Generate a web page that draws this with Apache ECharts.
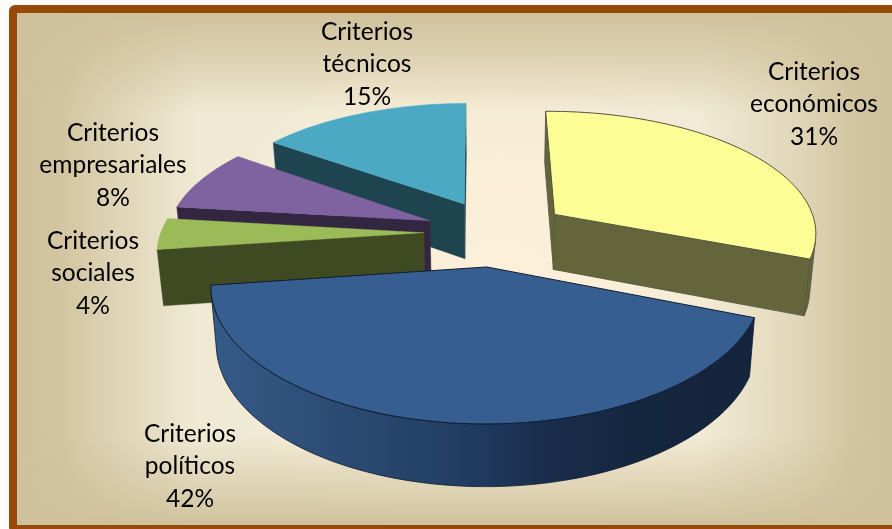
<!DOCTYPE html>
<html>
<head>
<meta charset="utf-8">
<style>html,body{margin:0;padding:0;background:#fff}#c{width:892px;height:529px}</style>
<script src="https://cdn.jsdelivr.net/npm/echarts@6/dist/echarts.min.js"></script>
</head>
<body>
<div id="c"></div>
<script>
// ---- data ----
const categories = ["Criterios\neconómicos", "Criterios\npolíticos", "Criterios\nsociales", "Criterios\nempresariales", "Criterios\ntécnicos"];
const values = [31, 42, 4, 8, 15];
// ---- styles ----
const topColors = ["#FDFD96", "#365E91", "#9BBB59", "#7F62A0", "#4BA9C4"];
const wallColors = ["#65653C", "#14253E", "#404A22", "#332640", "#1E4450"];
const outlineColors = ["#555540", "#0F1C30", null, null, null];
const drawOrder = [1, 5, 4, 3, 2];            // painter's order, back to front
const labelAnchors = [[814, 104.5], [190, 466.5], [93, 273.5], [113, 165.5], [367, 64.5]];
// ---- projection parameters ----
const VX = 495, HORIZON = -614, SCALE_X = 273, REF_Y = 267, K = 0.149, RADIUS_Y = 1.015;
const CENTER = [0.004, -0.272], EXPLODE = 0.274, HEIGHT = 57, ARC_STEP = 2;
const ROTATION = -0.5 * Math.PI / 180;
const total = values.reduce((a, b) => a + b, 0);

function project(X, Y) {
  const p = 1 / (1 - K * Y);
  return { x: VX + X * SCALE_X * Math.pow(p, 0.92), y: HORIZON + (REF_Y - HORIZON) * p, p: p };
}
function lower(pt) {
  return [VX + (pt.x - VX) * 0.981, pt.y + HEIGHT * Math.pow(pt.p, 0.58)];
}
function area(q) {
  let s = 0;
  for (let i = 0; i < q.length; i++) {
    const a = q[i], b = q[(i + 1) % q.length];
    s += a[0] * b[1] - b[0] * a[1];
  }
  return s;
}
function wallFill(i) {
  if (i !== 1) return wallColors[i];
  return new echarts.graphic.LinearGradient(209, 0, 756, 0, [
    { offset: 0, color: "#355B87" },
    { offset: 0.22, color: "#2C4C75" },
    { offset: 0.45, color: "#223E63" },
    { offset: 0.6, color: "#1A2F4E" },
    { offset: 0.78, color: "#15263F" },
    { offset: 1, color: "#14243C" }
  ], true);
}

function renderSlice(params, api) {
  const i = params.dataIndex;
  const val = api.value(0);
  let before = 0;
  for (let j = 0; j < i; j++) before += values[j];
  const a0 = before / total * Math.PI * 2 + ROTATION;
  const a1 = (before + val) / total * Math.PI * 2 + ROTATION;
  const mid = (a0 + a1) / 2 - ROTATION;
  const cx = CENTER[0] + Math.sin(mid) * EXPLODE;
  const cy = CENTER[1] - Math.cos(mid) * EXPLODE;
  const apex = project(cx, cy);
  const rim = [];
  const n = Math.max(2, Math.ceil((a1 - a0) * 180 / Math.PI / ARC_STEP));
  for (let s = 0; s <= n; s++) {
    const a = a0 + (a1 - a0) * s / n;
    rim.push(project(cx + Math.sin(a), cy - Math.cos(a) * RADIUS_Y));
  }
  const z = drawOrder[i] * 10;
  const outline = outlineColors[i];
  const fill = wallFill(i);
  const wallStroke = outline || wallColors[i];
  const children = [];
  const perimeter = [apex].concat(rim);
  // walls: only faces turned to the viewer
  let run = [];
  const flush = () => {
    if (run.length < 2) { run = []; return; }
    const top = run.map(p => [p.x, p.y]);
    const bot = run.map(lower).reverse();
    children.push({
      type: "polygon", z2: z,
      shape: { points: top.concat(bot) },
      style: { fill: fill, stroke: wallStroke, lineWidth: outline ? 0.8 : 0.4 }
    });
    run = [];
  };
  // arc wall, joined into contiguous visible runs
  for (let s = 0; s < rim.length - 1; s++) {
    const A = rim[s], B = rim[s + 1];
    const q = [[A.x, A.y], [B.x, B.y], lower(B), lower(A)];
    if (area(q) < 0) {
      if (!run.length) run.push(A);
      run.push(B);
    } else flush();
  }
  flush();
  // radial walls
  [[apex, rim[0]], [rim[rim.length - 1], apex]].forEach(e => {
    const A = e[0], B = e[1];
    const q = [[A.x, A.y], [B.x, B.y], lower(B), lower(A)];
    if (area(q) < 0) {
      children.push({
        type: "polygon", z2: z,
        shape: { points: q },
        style: { fill: fill, stroke: wallStroke, lineWidth: outline ? 0.8 : 0.4 }
      });
    }
  });
  // top face
  children.push({
    type: "polygon", z2: z + 1,
    shape: { points: perimeter.map(p => [p.x, p.y]) },
    style: { fill: topColors[i], stroke: outline || topColors[i], lineWidth: outline ? 1 : 0.4 }
  });
  // label
  children.push({
    type: "text", z2: 100,
    style: {
      x: labelAnchors[i][0], y: labelAnchors[i][1],
      text: categories[i] + "\n" + val + "%",
      fill: "#000", font: "24.5px Lato", lineHeight: 32.5,
      textAlign: "center", textVerticalAlign: "middle"
    }
  });
  return { type: "group", children: children };
}

const TAN = a => "rgba(206,192,154," + a + ")";
const chart = echarts.init(document.getElementById("c"), null, { renderer: "canvas" });
chart.setOption({
  animation: false,
  backgroundColor: "#FEFCFA",
  graphic: [
    { type: "rect", z: 0, shape: { x: 13, y: 9, width: 879, height: 520 },
      style: { fill: new echarts.graphic.RadialGradient(0.55, 0.55, 0.55, [
        { offset: 0, color: "#FEF0DA" }, { offset: 0.35, color: "#FBEFD9" }, { offset: 1, color: "#F0EAD4" }]) } },
    { type: "rect", z: 0, shape: { x: 13, y: 9, width: 879, height: 520 },
      style: { fill: new echarts.graphic.LinearGradient(0, 0, 1, 0, [
        { offset: 0, color: TAN(1) }, { offset: 0.06, color: TAN(0.85) }, { offset: 0.12, color: TAN(0.5) },
        { offset: 0.21, color: TAN(0) }, { offset: 0.78, color: TAN(0) }, { offset: 0.88, color: TAN(0.4) },
        { offset: 0.95, color: TAN(0.85) }, { offset: 1, color: TAN(1) }]) } },
    { type: "rect", z: 0, shape: { x: 13, y: 9, width: 879, height: 520 },
      style: { fill: new echarts.graphic.LinearGradient(0, 0, 0, 1, [
        { offset: 0, color: TAN(1) }, { offset: 0.09, color: TAN(0.6) }, { offset: 0.2, color: TAN(0) },
        { offset: 0.82, color: TAN(0) }, { offset: 0.92, color: TAN(0.55) }, { offset: 1, color: TAN(1) }]) } },
    { type: "rect", z: 1, shape: { x: 13, y: 9, width: 890, height: 520, r: 2 },
      style: { fill: "transparent", stroke: "#984807", lineWidth: 8 } }
  ],
  series: [{
    type: "custom",
    coordinateSystem: "none",
    renderItem: renderSlice,
    clip: false,
    silent: true,
    data: values.map(v => [v])
  }]
});
</script>
</body>
</html>
